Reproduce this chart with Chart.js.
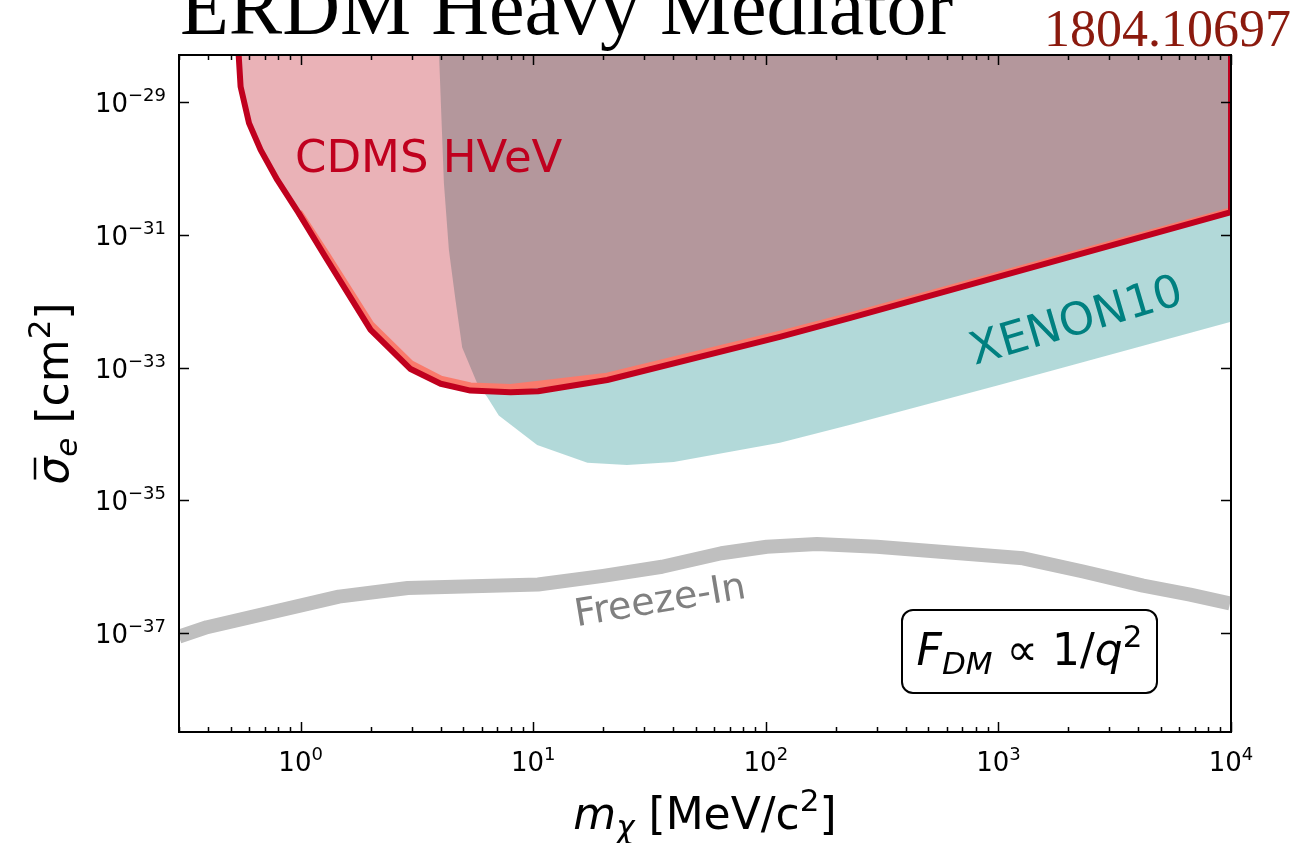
<!DOCTYPE html>
<html>
<head>
<meta charset="utf-8">
<script src="https://cdn.jsdelivr.net/npm/chart.js@4.4.0/dist/chart.umd.min.js"></script>
<style>
  body { margin: 0; background: #fff; }
  #wrap { width: 1311px; height: 843px; }
</style>
</head>
<body>
<div id="wrap"><canvas id="chart" width="1311" height="843"></canvas></div>
<script>
// CDMS HVeV limit (red line), m in MeV, sigma in cm^2
const cdmsMass  = [0.54, 0.552, 0.60, 0.673, 0.794, 0.983, 1.30, 2.0, 2.97, 4.0, 5.37, 8.0, 10.5, 20.8, 115, 231, 10000, 10000];
const cdmsSigma = [6e-29, 1.7e-29, 4.8e-30, 1.9e-30, 6.7e-31, 2.1e-31, 4.2e-32, 3.7e-33, 9.5e-34, 5.7e-34, 4.5e-34, 4.25e-34, 4.4e-34, 6.5e-34, 2.9e-33, 5.6e-33, 2.2e-31, 6e-29];

// salmon edge just inside the CDMS curve
const edgeMass  = [0.983, 1.30, 2.0, 2.97, 4.0, 5.37, 8.0, 20.8, 115, 231, 10000];
const edgeSigma = [2.2e-31, 4.9e-32, 4.5e-33, 1.15e-33, 6.7e-34, 5.3e-34, 5.0e-34, 7.4e-34, 3.2e-33, 6.0e-33, 2.3e-31];

// XENON10 lower boundary
const xenonMass  = [3.93, 4.13, 4.34, 4.63, 4.95, 5.74, 6.34, 7.11, 10.4, 17.1, 25.3, 40.2, 115, 231, 1018, 10000];
const xenonSigma = [6e-29, 6e-31, 5.9e-32, 1.05e-32, 2.0e-33, 5.8e-34, 3.6e-34, 1.9e-34, 6.8e-35, 3.7e-35, 3.4e-35, 3.8e-35, 7.4e-35, 1.38e-34, 5.5e-34, 4.9e-33];

// Freeze-In band
const freezeMass  = [0.30, 0.396, 1.46, 2.89, 10.5, 20, 35.8, 64.4, 101, 166, 300, 1277, 2312, 4185, 6670, 9900];
const freezeSigma = [8.9e-38, 1.23e-37, 3.55e-37, 4.8e-37, 5.4e-37, 7.3e-37, 1.0e-36, 1.6e-36, 2.0e-36, 2.2e-36, 2.0e-36, 1.34e-36, 8.5e-37, 5.2e-37, 3.8e-37, 2.8e-37];

// axis ticks
const xTickVals = [1, 10, 100, 1000, 10000];
const xTickExp  = ['0', '1', '2', '3', '4'];
const yTickVals = [1e-29, 1e-31, 1e-33, 1e-35, 1e-37];
const yTickExp  = ['\u221229', '\u221231', '\u221233', '\u221235', '\u221237'];

const FONT = "'DejaVu Sans'";

function pts(xs, ys) {
  return xs.map((x, i) => ({ x: x, y: ys[i] }));
}

function drawRuns(ctx, runs, x, y, align) {
  let w = 0;
  runs.forEach(r => { ctx.font = r.font; r.w = ctx.measureText(r.text).width; w += r.w; });
  let cx = align === 'center' ? x - w / 2 : (align === 'right' ? x - w : x);
  runs.forEach(r => {
    ctx.font = r.font;
    r.x = cx;
    ctx.fillText(r.text, cx, y + (r.dy || 0));
    cx += r.w;
  });
  return runs;
}

const decorations = {
  id: 'decorations',
  beforeDraw(chart) {
    const ctx = chart.ctx;
    ctx.save();
    ctx.fillStyle = '#fff';
    ctx.fillRect(0, 0, chart.width, chart.height);
    ctx.restore();
  },
  afterDraw(chart) {
    const ctx = chart.ctx;
    const a = chart.chartArea;
    const xs = chart.scales.x, ys = chart.scales.y;
    ctx.save();
    ctx.textAlign = 'left';
    ctx.textBaseline = 'alphabetic';

    // frame
    ctx.strokeStyle = '#000';
    ctx.lineWidth = 2;
    ctx.strokeRect(a.left, a.top, a.right - a.left, a.bottom - a.top);

    // x ticks (major + minor, bottom and top, pointing inward)
    ctx.lineWidth = 1.5;
    for (let d = -1; d <= 4; d++) {
      for (let k = 1; k <= 9; k++) {
        const v = k * Math.pow(10, d);
        if (v < xs.min || v > xs.max) continue;
        const px = Math.round(xs.getPixelForValue(v)) + 0.5;
        const len = k === 1 ? 10 : 5;
        ctx.beginPath();
        ctx.moveTo(px, a.bottom); ctx.lineTo(px, a.bottom - len);
        ctx.moveTo(px, a.top); ctx.lineTo(px, a.top + len);
        ctx.stroke();
      }
    }
    // y ticks (major only, left and right)
    yTickVals.forEach(v => {
      const py = Math.round(ys.getPixelForValue(v)) + 0.5;
      ctx.beginPath();
      ctx.moveTo(a.left, py); ctx.lineTo(a.left + 10, py);
      ctx.moveTo(a.right, py); ctx.lineTo(a.right - 10, py);
      ctx.stroke();
    });

    // tick labels
    ctx.fillStyle = '#000';
    xTickVals.forEach((v, i) => {
      const px = xs.getPixelForValue(v);
      drawRuns(ctx, [
        { text: '10', font: '26px ' + FONT },
        { text: xTickExp[i], font: '18px ' + FONT, dy: -11 }
      ], px, a.bottom + 39, 'center');
    });
    yTickVals.forEach((v, i) => {
      const py = ys.getPixelForValue(v);
      drawRuns(ctx, [
        { text: '10', font: '26px ' + FONT },
        { text: yTickExp[i], font: '18px ' + FONT, dy: -11 }
      ], a.left - 13, py + 10, 'right');
    });

    // axis labels
    drawRuns(ctx, [
      { text: 'm', font: 'italic 44px ' + FONT },
      { text: '\u03c7', font: 'italic 31px ' + FONT, dy: 9 },
      { text: ' [MeV/c', font: '44px ' + FONT },
      { text: '2', font: '31px ' + FONT, dy: -18 },
      { text: ']', font: '44px ' + FONT }
    ], (a.left + a.right) / 2, 829, 'center');

    ctx.save();
    ctx.translate(68, (a.top + a.bottom) / 2);
    ctx.rotate(-Math.PI / 2);
    const yl = drawRuns(ctx, [
      { text: '\u03c3', font: 'italic 44px ' + FONT },
      { text: 'e', font: 'italic 31px ' + FONT, dy: 9 },
      { text: ' [cm', font: '44px ' + FONT },
      { text: '2', font: '31px ' + FONT, dy: -18 },
      { text: ']', font: '44px ' + FONT }
    ], 0, 0, 'center');
    ctx.lineWidth = 2.5;
    ctx.strokeStyle = '#000';
    ctx.beginPath();
    ctx.moveTo(yl[0].x + 5, -33); ctx.lineTo(yl[0].x + yl[0].w - 1, -33);
    ctx.stroke();
    ctx.restore();

    // title and arXiv number
    ctx.font = "80px 'Liberation Serif'";
    ctx.fillStyle = '#000';
    ctx.fillText('ERDM Heavy Mediator', 180, 34);
    ctx.font = "52px 'Liberation Serif'";
    ctx.fillStyle = '#8b1a0e';
    ctx.textAlign = 'right';
    ctx.fillText('1804.10697', 1291, 46);
    ctx.textAlign = 'left';

    // region labels
    ctx.font = '45px ' + FONT;
    ctx.fillStyle = '#c0001e';
    ctx.fillText('CDMS HVeV', 295, 172);

    ctx.save();
    ctx.translate(1080, 334);
    ctx.rotate(-16.4 * Math.PI / 180);
    ctx.fillStyle = '#008080';
    ctx.textAlign = 'center';
    ctx.fillText('XENON10', 0, 0);
    ctx.restore();

    ctx.save();
    ctx.translate(662, 612);
    ctx.rotate(-9.5 * Math.PI / 180);
    ctx.font = '38px ' + FONT;
    ctx.fillStyle = '#808080';
    ctx.textAlign = 'center';
    ctx.fillText('Freeze-In', 0, 0);
    ctx.restore();

    // form factor box
    ctx.beginPath();
    ctx.roundRect(902, 610, 255, 83, 11);
    ctx.fillStyle = '#fff';
    ctx.fill();
    ctx.lineWidth = 2;
    ctx.strokeStyle = '#000';
    ctx.stroke();
    ctx.fillStyle = '#000';
    drawRuns(ctx, [
      { text: 'F', font: 'italic 44px ' + FONT },
      { text: 'DM', font: 'italic 31px ' + FONT, dy: 9 },
      { text: ' \u221d 1/', font: '44px ' + FONT },
      { text: 'q', font: 'italic 44px ' + FONT },
      { text: '2', font: '31px ' + FONT, dy: -18 }
    ], 1029.5, 665, 'center');

    ctx.restore();
  }
};

new Chart(document.getElementById('chart'), {
  type: 'line',
  data: {
    datasets: [
      {
        label: 'XENON10',
        data: pts(xenonMass, xenonSigma),
        borderWidth: 0,
        borderColor: 'rgba(0,0,0,0)',
        backgroundColor: 'rgba(0,128,128,0.3)',
        fill: 'end',
        order: 5
      },
      {
        label: 'CDMS HVeV region',
        data: pts(cdmsMass, cdmsSigma),
        borderWidth: 0,
        borderColor: 'rgba(0,0,0,0)',
        backgroundColor: 'rgba(185,0,18,0.3)',
        fill: 'end',
        order: 4
      },
      {
        label: 'edge',
        data: pts(edgeMass, edgeSigma),
        borderColor: '#fa7a6c',
        borderWidth: 7,
        fill: false,
        order: 3
      },
      {
        label: 'CDMS HVeV',
        data: pts(cdmsMass, cdmsSigma),
        borderColor: '#c0001e',
        borderWidth: 6,
        fill: false,
        order: 2
      },
      {
        label: 'Freeze-In',
        data: pts(freezeMass, freezeSigma),
        borderColor: '#bfbfbf',
        borderWidth: 14,
        fill: false,
        order: 1
      }
    ]
  },
  options: {
    responsive: false,
    animation: false,
    devicePixelRatio: 1,
    layout: { padding: { left: 179, right: 80, top: 55, bottom: 111 } },
    elements: {
      point: { radius: 0 },
      line: { tension: 0, borderJoinStyle: 'round', borderCapStyle: 'butt' }
    },
    datasets: { line: { clip: 0 } },
    plugins: {
      legend: { display: false },
      tooltip: { enabled: false }
    },
    scales: {
      x: { type: 'logarithmic', min: 0.3, max: 10000, display: false },
      y: { type: 'logarithmic', min: 3.25e-39, max: 5.1e-29, display: false }
    }
  },
  plugins: [decorations]
});
</script>
</body>
</html>
